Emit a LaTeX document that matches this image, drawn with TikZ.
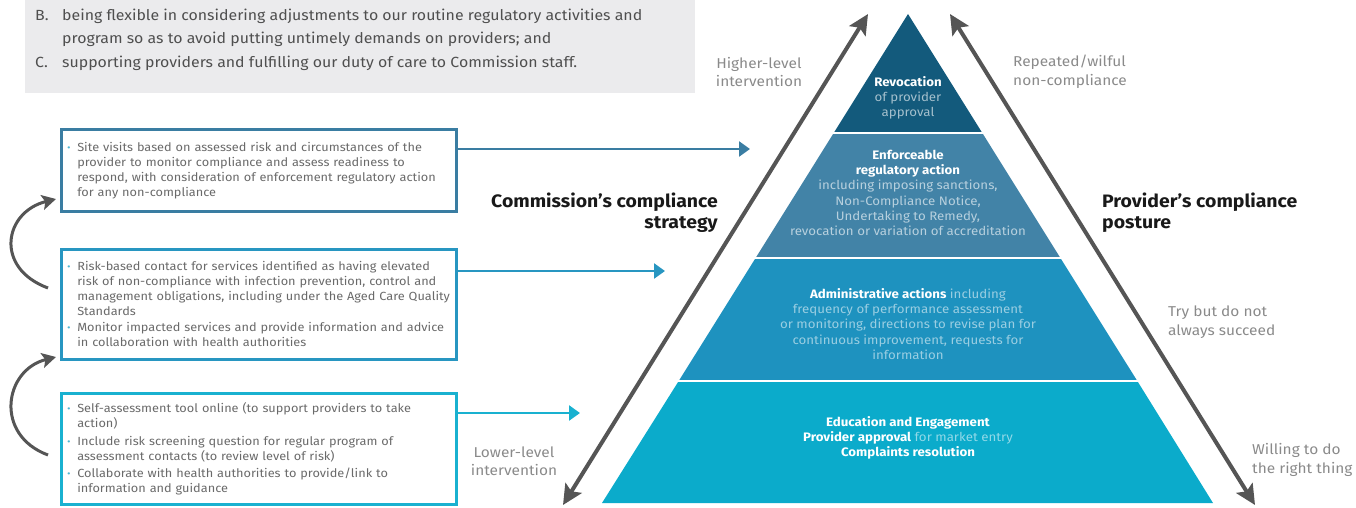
\documentclass[tikz,border=0pt]{standalone}
\usepackage{fontspec}
\setmainfont{Fira Sans}[FakeStretch=1.08]
\usetikzlibrary{arrows.meta}
\definecolor{greybg}{HTML}{EBEBED}
\definecolor{greytxt}{HTML}{4F4F4F}
\definecolor{boxtxt}{HTML}{6A6A6A}
\definecolor{sidetxt}{HTML}{8A8A8A}
\definecolor{dotc}{HTML}{4DB6D3}
\definecolor{edgeA}{HTML}{3A7DA2}
\definecolor{edgeB}{HTML}{2896C1}
\definecolor{edgeC}{HTML}{19B1D0}
\definecolor{bandA}{HTML}{135A7C}
\definecolor{bandB}{HTML}{4283A7}
\definecolor{bandC}{HTML}{1E92BF}
\definecolor{bandD}{HTML}{0BABCB}
\definecolor{arrowgrey}{HTML}{555555}
% one bullet point: a small cyan dot and a block of pre-broken lines;
% the optional argument is a strut height that opens a gap above the point
\newcommand{\bitem}[2][0pt]{\noindent\makebox[10pt][l]{\textcolor{dotc}{\textbf{·}}}\parbox[t]{395pt}{\raggedright\rule{0pt}{#1}#2}\par}
\begin{document}
\begin{tikzpicture}[x=1pt,y=-1pt,
  leftbox/.style={draw, line width=2.6pt, fill=white, anchor=north west,
    minimum width=395pt, inner xsep=6pt, inner ysep=0pt, text width=383pt,
    align=left, text=boxtxt, font=\fontsize{11.8}{15}\selectfont},
  feedarrow/.style={line width=2.4pt, -{Triangle[length=11pt,width=15pt]}},
  bigarrow/.style={line width=4pt, draw=arrowgrey,
    {Stealth[length=20pt,width=19pt,inset=4pt]}-{Stealth[length=20pt,width=19pt,inset=4pt]}},
  looparrow/.style={line width=3pt, draw=arrowgrey, -{Stealth[length=14pt,width=15pt,inset=3pt]}},
  bandtext/.style={align=center, text=white, font=\fontsize{12.3}{15.2}\selectfont},
  sidelabel/.style={text=sidetxt, font=\fontsize{14.3}{18.5}\selectfont, inner sep=0pt},
  title/.style={text=black!90, font=\bfseries\fontsize{18}{21}\selectfont, inner sep=0pt},
  greyline/.style={anchor=base west, inner sep=0pt, text=greytxt, font=\fontsize{14.7}{17}\selectfont}]
\useasboundingbox (0,0) rectangle (1356,508);

% grey panel with the tail of a list
\fill[greybg] (25,0) rectangle (695,93);
\node[greyline] (lb) at (35,21) {B.};
\node[greyline] (lb1) at (62,21) {being flexible in considering adjustments to our routine regulatory activities and};
\node[greyline] (lb2) at (62,44) {program so as to avoid putting untimely demands on providers; and};
\node[greyline] (lc) at (35,68) {C.};
\node[greyline] (lc1) at (62,68) {supporting providers and fulfilling our duty of care to Commission staff.};

% pyramid bands
\fill[bandD] (602,503) -- (1213,503) -- (1137.3,381) -- (678.7,381) -- cycle;
\fill[bandC] (678.7,381) -- (1137.3,381) -- (1060.4,258) -- (755.6,258) -- cycle;
\fill[bandB] (755.6,258) -- (1060.4,258) -- (982.3,133) -- (833.7,133) -- cycle;
\fill[bandA] (833.7,133) -- (982.3,133) -- (908,14) -- cycle;
\draw[white, line width=1.6pt] (830,133) -- (986,133) (752,258) -- (1064,258) (675,381) -- (1141,381);

\node[bandtext] (rev) at (908,98) {\textbf{Revocation}\\\textcolor{white!62!bandA}{of provider}\\\textcolor{white!62!bandA}{approval}};
\node[bandtext] (enf) at (908,193) {\textbf{Enforceable}\\\textbf{regulatory action}\\\textcolor{white!62!bandB}{including imposing sanctions,}\\\textcolor{white!62!bandB}{Non-Compliance Notice,}\\\textcolor{white!62!bandB}{Undertaking to Remedy,}\\\textcolor{white!62!bandB}{revocation or variation of accreditation}};
\node[bandtext] (adm) at (908,324) {\textbf{Administrative actions} \textcolor{white!55!bandC}{including}\\\textcolor{white!55!bandC}{frequency of performance assessment}\\\textcolor{white!55!bandC}{or monitoring, directions to revise plan for}\\\textcolor{white!55!bandC}{continuous improvement, requests for}\\\textcolor{white!55!bandC}{information}};
\node[bandtext] (edu) at (908,438) {\textbf{Education and Engagement}\\\textbf{Provider approval} \textcolor{white!55!bandD}{for market entry}\\\textbf{Complaints resolution}};

% the two scales beside the pyramid
\coordinate (lowL) at (563,505);
\coordinate (topL) at (868,14);
\coordinate (topR) at (950,14);
\coordinate (lowR) at (1255,505);
\draw[bigarrow] (lowL) -- (topL);
\draw[bigarrow] (topR) -- (lowR);

\node[sidelabel, align=center] (hi) at (759,72) {Higher-level\\intervention};
\node[sidelabel, align=center] (lo) at (514,461) {Lower-level\\intervention};
\node[sidelabel, align=left, anchor=west] (rep) at (1013,72) {Repeated/wilful\\non-compliance};
\node[sidelabel, align=left, anchor=west] (try) at (1168,322) {Try but do not\\always succeed};
\node[sidelabel, align=left, anchor=west] (will) at (1252,460) {Willing to do\\the right thing};

\node[title, align=right, anchor=east] (comm) at (718,213) {Commission’s compliance\\strategy};
\node[title, align=left, anchor=west] (prov) at (1102,213) {Provider’s compliance\\posture};

% activity boxes
\node[leftbox, draw=edgeA, minimum height=82pt] (box1) at (60,128) {%
\bitem{Site visits based on assessed risk and circumstances of the\\provider to monitor compliance and assess readiness to\\respond, with consideration of enforcement regulatory action\\for any non-compliance}};
\node[leftbox, draw=edgeB, minimum height=110pt] (box2) at (60,248) {%
\bitem{Risk-based contact for services identified as having elevated\\risk of non-compliance with infection prevention, control and\\management obligations, including under the Aged Care Quality\\Standards}
\bitem[15pt]{Monitor impacted services and provide information and advice\\in collaboration with health authorities}};
\node[leftbox, draw=edgeC, minimum height=111pt] (box3) at (60,392) {%
\bitem{Self-assessment tool online (to support providers to take\\action)}
\bitem[15pt]{Include risk screening question for regular program of\\assessment contacts (to review level of risk)}
\bitem[15pt]{Collaborate with health authorities to provide/link to\\information and guidance}};

% links from the boxes into the pyramid
\coordinate (t1) at (750,149);
\coordinate (t2) at (665,271);
\coordinate (t3) at (580,413);
\draw[feedarrow, draw=edgeA, fill=edgeA] (box1.east |- t1) -- (t1);
\draw[feedarrow, draw=edgeB, fill=edgeB] (box2.east |- t2) -- (t2);
\draw[feedarrow, draw=edgeC, fill=edgeC] (box3.east |- t3) -- (t3);

% escalation loops on the left
\coordinate (l1s) at (48,288);
\coordinate (l1e) at (56,199);
\coordinate (l2s) at (48,455);
\coordinate (l2e) at (56,357);
\draw[looparrow] (l1s) .. controls (-6,268) and (4,212) .. (l1e);
\draw[looparrow] (l2s) .. controls (-6,435) and (4,370) .. (l2e);
\end{tikzpicture}
\end{document}
